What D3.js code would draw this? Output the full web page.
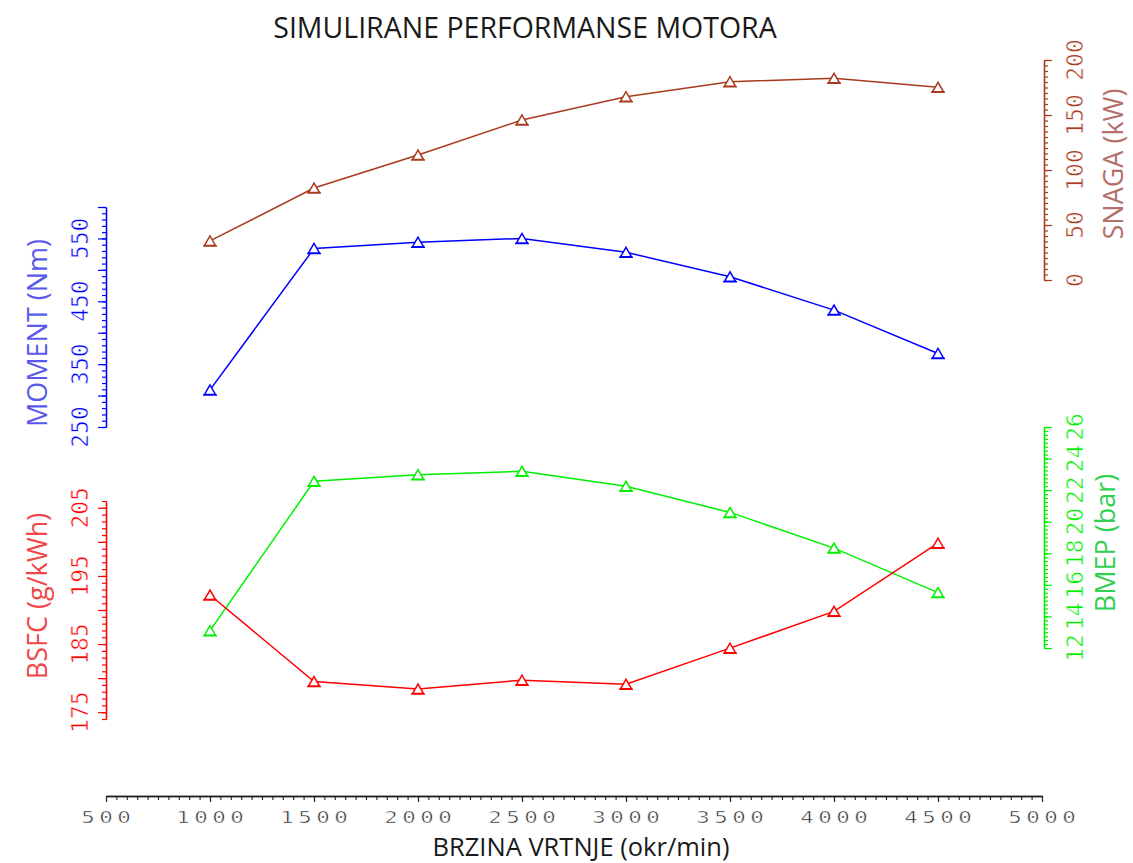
<!DOCTYPE html>
<html><head><meta charset="utf-8">
<script src="https://cdn.jsdelivr.net/npm/d3@7"></script>
<style>body{margin:0;background:#fff}</style>
</head><body><svg id="c" width="1133" height="863"></svg>
<script>
// ---- data ----
const rpm = [1000, 1500, 2000, 2500, 3000, 3500, 4000, 4500];
const snaga = [35.5, 83.6, 113.6, 145.5, 166.6, 180.3, 183.3, 175.2];
const moment = [309, 534, 544, 550, 528, 489, 436, 367];
const bmep = [13.1, 22.56, 22.98, 23.19, 22.24, 20.59, 18.33, 15.51];
const bsfc = [192.2, 179.5, 178.4, 179.7, 179.1, 184.4, 189.8, 199.8];

const xTickLabels = [500, 1000, 1500, 2000, 2500, 3000, 3500, 4000, 4500, 5000];
const momentTickLabels = [250, 350, 450, 550];
const snagaTickLabels = [0, 50, 100, 150, 200];
const bsfcTickLabels = [175, 185, 195, 205];
const bmepTickLabels = [12, 14, 16, 18, 20, 22, 24, 26];

const title = "SIMULIRANE PERFORMANSE MOTORA";
const xTitle = "BRZINA VRTNJE (okr/min)";
const momentTitle = "MOMENT (Nm)";
const snagaTitle = "SNAGA (kW)";
const bsfcTitle = "BSFC (g/kWh)";
const bmepTitle = "BMEP (bar)";

// ---- colours ----
const cBrown = "#a83a1e", cBlue = "#0000ff", cRed = "#ff0000", cGreen = "#00f000";

const svg = d3.select("#c");
svg.append("rect").attr("width",1133).attr("height",863).attr("fill","#fff");

// ---- scales ----
const x = d3.scaleLinear().domain([500, 5000]).range([106, 1042]);
const yMoment = d3.scaleLinear().domain([250, 600]).range([427, 207]);
const ySnaga = d3.scaleLinear().domain([0, 200]).range([280, 60]);
const yBsfc = d3.scaleLinear().domain([174, 206]).range([719, 501]);
const yBmep = d3.scaleLinear().domain([12, 26]).range([648, 427]);

const tickFont = "'DejaVu Sans Mono', monospace";

function range(a, b, s){ const out=[]; for(let v=a; v<=b+1e-9; v+=s) out.push(+v.toFixed(4)); return out; }

function vAxis(scale, xpos, side, color, minorStep, majorStep, labels, labelX){
  const g = svg.append("g").attr("transform", `translate(${xpos},0)`);
  const mk = side === "left" ? d3.axisLeft : d3.axisRight;
  const d = scale.domain();
  g.call(mk(scale).tickValues(range(d[0], d[1], minorStep)).tickSize(4).tickFormat("").tickSizeOuter(0));
  g.append("g").call(mk(scale).tickValues(range(Math.ceil(d[0]/majorStep)*majorStep, d[1], majorStep)).tickSize(8).tickFormat("").tickSizeOuter(0));
  g.selectAll(".domain").attr("stroke", color).attr("stroke-width", 1.3);
  g.selectAll(".tick line").attr("stroke", color).attr("stroke-width", 1.2);
  labels.forEach(v => {
    svg.append("text")
      .attr("transform", `translate(${labelX},${scale(v)}) rotate(-90)`)
      .attr("text-anchor", "middle").attr("dy", "0.36em")
      .attr("font-family", tickFont).attr("font-size", 23)
      .attr("stroke", "#fff").attr("stroke-width", 0.6)
      .attr("fill", color).text(v);
  });
}

vAxis(yMoment, 106, "left", cBlue, 10, 50, momentTickLabels, 80);
vAxis(yBsfc, 106, "left", cRed, 1, 5, bsfcTickLabels, 80);
vAxis(ySnaga, 1044, "right", cBrown, 5, 50, snagaTickLabels, 1075);
vAxis(yBmep, 1044, "right", cGreen, 0.25, 2, bmepTickLabels, 1075);

// x axis
const gx = svg.append("g").attr("transform", "translate(0,796)");
gx.call(d3.axisBottom(x).tickValues(range(500, 5000, 50)).tickSize(4).tickFormat("").tickSizeOuter(0));
gx.append("g").call(d3.axisBottom(x).tickValues(xTickLabels).tickSize(6).tickFormat("").tickSizeOuter(0));
gx.selectAll(".domain").attr("stroke", "#222").attr("stroke-width", 1.3);
gx.selectAll(".tick line").attr("stroke", "#222").attr("stroke-width", 1.1);
const LS = 3;
xTickLabels.forEach(v => {
  svg.append("text").attr("transform", `translate(${x(v)},823) scale(1.5,1)`)
    .attr("x", LS/2)
    .attr("text-anchor", "middle").attr("font-family", tickFont).attr("font-size", 15)
    .attr("letter-spacing", LS).attr("fill", "#222")
    .attr("stroke", "#fff").attr("stroke-width", 0.5).text(v);
});

// ---- titles ----
const tFont = "'Open Sans', 'Noto Sans', sans-serif";
svg.append("text").attr("x", 525).attr("y", 38).attr("text-anchor", "middle")
  .attr("font-family", tFont).attr("font-size", 28.5).attr("fill", "#1a1a1a").text(title);
svg.append("text").attr("x", 581).attr("y", 856).attr("text-anchor", "middle")
  .attr("font-family", tFont).attr("font-size", 25.5).attr("fill", "#1a1a1a").text(xTitle);

function vTitle(txt, bx, cy, color){
  svg.append("text").attr("transform", `translate(${bx},${cy}) rotate(-90)`)
    .attr("text-anchor", "middle")
    .attr("font-family", tFont).attr("font-size", 27).attr("fill", color).text(txt);
}
vTitle(momentTitle, 47, 333, "#5858ec");
vTitle(bsfcTitle, 47, 596, "#f04848");
vTitle(snagaTitle, 1123, 164, "#b4706a");
vTitle(bmepTitle, 1115, 543, "#30d050");

// ---- series ----
const tri = "M0,-6 L-5.5,3.5 L5.5,3.5 Z M-7,4 L7,4";
function series(vals, scale, color){
  const pts = rpm.map((r,i) => [x(r), scale(vals[i])]);
  svg.append("path").attr("d", d3.line()(pts)).attr("fill", "none")
    .attr("stroke", color).attr("stroke-width", 1.5);
  svg.append("g").selectAll("path").data(pts).join("path")
    .attr("transform", d => `translate(${d[0]},${d[1]+1})`)
    .attr("d", tri).attr("fill", "#fff").attr("stroke", color).attr("stroke-width", 1.5);
}
series(snaga, ySnaga, cBrown);
series(moment, yMoment, cBlue);
series(bmep, yBmep, cGreen);
series(bsfc, yBsfc, cRed);
</script></body></html>
